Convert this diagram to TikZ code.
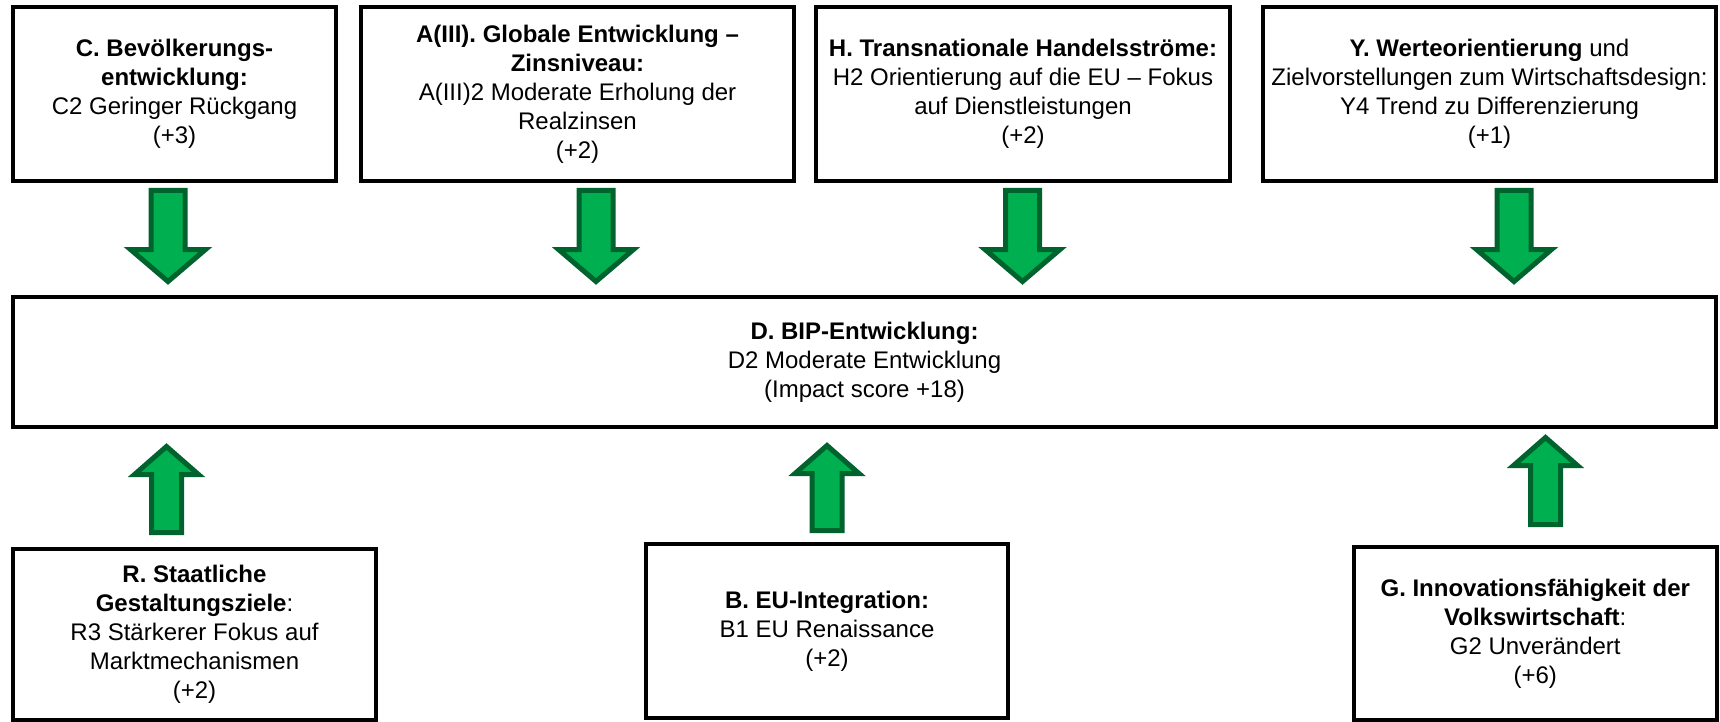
\documentclass[tikz,border=0pt]{standalone}
\usepackage{fontspec}
\setmainfont{Liberation Sans}
\usetikzlibrary{calc}

\definecolor{arrowfill}{RGB}{0,176,80}
\definecolor{arrowline}{RGB}{0,98,44}

\tikzset{
  factorbox/.style={draw=black, line width=4pt, rectangle, inner sep=0pt,
    align=center, text=black, font=\fontsize{24}{29}\selectfont},
  blockarrow/.style={draw=arrowline, fill=arrowfill, line width=5pt, line join=miter},
  % block arrow pointing down: shaft half width 17, head half width 37.5, head length 32
  blockdown/.style={blockarrow, to path={
    let \p1=(\tikztostart), \p2=(\tikztotarget) in
    (\x1-17pt,\y1) -- (\x1+17pt,\y1) -- (\x1+17pt,\y2+32pt) -- (\x1+37.5pt,\y2+32pt)
    -- (\x1,\y2) -- (\x1-37.5pt,\y2+32pt) -- (\x1-17pt,\y2+32pt) -- cycle}},
  % block arrow pointing up: shaft half width 15, head half width 32, head length 28
  blockup/.style={blockarrow, to path={
    let \p1=(\tikztostart), \p2=(\tikztotarget) in
    (\x1-15pt,\y1) -- (\x1+15pt,\y1) -- (\x1+15pt,\y2-28pt) -- (\x1+32pt,\y2-28pt)
    -- (\x1,\y2) -- (\x1-32pt,\y2-28pt) -- (\x1-15pt,\y2-28pt) -- cycle}}
}

\begin{document}
\begin{tikzpicture}[x=1pt,y=-1pt]
  \fill[white] (0,0) rectangle (1720,722);
  \useasboundingbox (0,0) rectangle (1720,722);

  % drivers in the top row
  \node[factorbox, minimum width=323pt, minimum height=174pt] (c) at (174.5,94)
    {\textbf{C. Bevölkerungs-}\\\textbf{entwicklung:}\\C2 Geringer Rückgang\\(+3)};
  \node[factorbox, minimum width=433pt, minimum height=174pt] (a) at (577.5,94)
    {\textbf{A(III). Globale Entwicklung –}\\\textbf{Zinsniveau:}\\A(III)2 Moderate Erholung der\\Realzinsen\\(+2)};
  \node[factorbox, minimum width=414pt, minimum height=174pt] (h) at (1023,94)
    {\textbf{H. Transnationale Handelsströme:}\\H2 Orientierung auf die EU – Fokus\\auf Dienstleistungen\\(+2)};
  \node[factorbox, minimum width=453pt, minimum height=174pt] (y) at (1489.5,94)
    {\textbf{Y. Werteorientierung} und\\Zielvorstellungen zum Wirtschaftsdesign:\\Y4 Trend zu Differenzierung\\(+1)};

  % central factor
  \node[factorbox, minimum width=1703pt, minimum height=130pt] (d) at (864.5,362)
    {\textbf{D. BIP-Entwicklung:}\\D2 Moderate Entwicklung\\(Impact score +18)};

  % drivers in the bottom row
  \node[factorbox, minimum width=363pt, minimum height=171pt] (r) at (194.5,634.5)
    {\textbf{R. Staatliche}\\\textbf{Gestaltungsziele}:\\R3 Stärkerer Fokus auf\\Marktmechanismen\\(+2)};
  \node[factorbox, minimum width=362pt, minimum height=174pt] (b) at (827,631)
    {\textbf{B. EU-Integration:}\\B1 EU Renaissance\\(+2)};
  \node[factorbox, minimum width=363.5pt, minimum height=173pt] (g) at (1535.25,633.5)
    {\textbf{G. Innovationsfähigkeit der}\\\textbf{Volkswirtschaft}:\\G2 Unverändert\\(+6)};

  % influences from above
  \draw[blockdown] ($(c.south)+(-6.5,7.5)$) to ($(c.south |- d.north)+(-6.5,-13.5)$);
  \draw[blockdown] ($(a.south)+(18.5,7.5)$) to ($(a.south |- d.north)+(18.5,-13.5)$);
  \draw[blockdown] ($(h.south)+(-0.5,7.5)$) to ($(h.south |- d.north)+(-0.5,-13.5)$);
  \draw[blockdown] ($(y.south)+(24.5,7.5)$) to ($(y.south |- d.north)+(24.5,-13.5)$);

  % influences from below
  \draw[blockup] ($(r.north)+(-28,-14.5)$) to ($(r.north |- d.south)+(-28,17.5)$);
  \draw[blockup] ($(b.north)+(0,-11.5)$) to ($(b.north |- d.south)+(0,16.5)$);
  \draw[blockup] ($(g.north)+(10.25,-20.5)$) to ($(g.north |- d.south)+(10.25,8.5)$);
\end{tikzpicture}
\end{document}
